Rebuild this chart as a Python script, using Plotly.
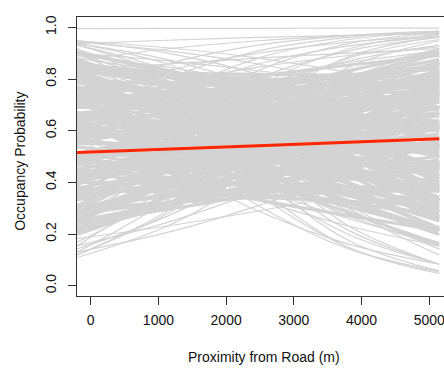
import plotly.graph_objects as go

# x positions (m) at which each posterior curve is read
x_points = [-203, 2472, 5148]                    # core curves: left edge, middle, right end
x_points_fine = [-203, 1134, 2472, 3810, 5148]   # fringe curves: five readings each

# Posterior-sample occupancy curves, dense core (prob at left, middle, right)
core_left = [.475,.299,.378,.240,.438,.279,.366,.500,.310,.450,.250,.401,.354,.622,.214,.512,.299,.721,.214,.574,
             .354,.488,.279,.634,.198,.426,.711,.731,.366,.537,.223,.634,.289,.475,.711,.332,.611,.206,.512,.438,
             .711,.289,.599,.378,.794,.279,.657,.438,.562,.354,.711,.250,.500,.769,.794,.438,.611,.279,.701,.354,
             .550,.769,.401,.668,.259,.587,.512,.760,.343,.668,.450,.832,.332,.711,.512,.634,.413,.760,.299,.574,
             .818,.832,.500,.668,.343,.760,.413,.611,.810,.475,.731,.310,.646,.574,.810,.413,.721,.512,.870,.401,
             .769,.574,.701,.488,.810,.366,.646,.858,.870,.574,.741,.413,.810,.488,.690,.858,.550,.786,.389,.721,
             .657,.858,.500,.786,.611,.905,.488,.832,.668,.769,.587,.864,.463,.731,.900,.852,.721,.794,.657,.832,
             .701,.786,.858,.741,.839,.690,.825]
core_mid = [.332,.343,.343,.354,.354,.366,.366,.378,.378,.389,.389,.389,.401,.401,.401,.413,.413,.413,.426,.426,
            .426,.438,.438,.438,.450,.450,.450,.450,.463,.463,.463,.463,.475,.475,.475,.475,.488,.488,.488,.488,
            .500,.500,.500,.500,.512,.512,.512,.512,.512,.525,.525,.525,.525,.525,.537,.537,.537,.537,.537,.550,
            .550,.550,.550,.550,.562,.562,.562,.562,.562,.574,.574,.574,.574,.574,.587,.587,.587,.587,.587,.599,
            .599,.599,.599,.599,.611,.611,.611,.611,.611,.622,.622,.622,.622,.622,.634,.634,.634,.634,.646,.646,
            .646,.646,.657,.657,.657,.657,.668,.668,.668,.668,.679,.679,.679,.679,.690,.690,.690,.690,.701,.701,
            .701,.711,.711,.711,.721,.721,.721,.731,.731,.731,.741,.741,.741,.750,.750,.760,.760,.769,.769,.777,
            .777,.786,.786,.794,.802,.810,.818]
core_right = [.214,.389,.310,.488,.279,.463,.366,.269,.450,.332,.550,.378,.450,.214,.622,.321,.537,.161,.668,.289,
              .500,.389,.611,.259,.731,.475,.214,.198,.562,.389,.721,.299,.668,.475,.250,.622,.366,.777,.463,.537,
              .289,.711,.401,.622,.223,.741,.366,.587,.463,.690,.332,.786,.550,.269,.259,.634,.463,.777,.366,.731,
              .550,.310,.690,.426,.825,.537,.611,.343,.760,.475,.690,.269,.786,.426,.657,.537,.741,.389,.825,.622,
              .332,.310,.690,.525,.825,.438,.777,.611,.366,.750,.500,.858,.599,.668,.413,.810,.537,.741,.332,.832,
              .500,.711,.611,.794,.463,.864,.690,.401,.378,.750,.611,.864,.512,.825,.690,.450,.802,.574,.896,.679,
              .741,.500,.858,.622,.810,.413,.875,.599,.786,.690,.852,.562,.905,.769,.500,.634,.794,.741,.852,.711,
              .839,.786,.690,.839,.760,.891,.810]

# Posterior-sample curves at the fringes of the band (prob at the five x_points_fine)
edge_p0 = [.948,.937,.937,.931,.931,.917,.900,.881,.943,.948,.900,.900,.881,.891,.891,.846,.832,.769,
           .731,.622,.500,.354,.231,.154,.130,.119,.870,.937,.731,.574,.401,.269,.119,.109,.154,.142,.168,.130,
           .646,.182,.995,.646,.750,.881,.818,.574,.846,.881,.909,.900,.450,.711,.269,.832,.622]
edge_p1 = [.900,.875,.858,.832,.810,.769,.721,.679,.909,.921,.832,.769,.711,.786,.846,.634,.646,.550,
           .858,.802,.731,.622,.500,.389,.332,.289,.917,.950,.832,.741,.622,.500,.279,.231,.245,.269,.354,.206,
           .463,.231,.996,.512,.599,.741,.668,.450,.721,.825,.818,.870,.622,.786,.463,.858,.721]
edge_p2 = [.818,.769,.711,.646,.574,.500,.426,.378,.858,.881,.731,.550,.450,.622,.786,.354,.401,.310,
           .931,.909,.881,.832,.769,.690,.622,.550,.948,.961,.900,.858,.802,.731,.525,.426,.366,.450,.599,.310,
           .289,.289,.996,.378,.426,.525,.475,.332,.550,.750,.668,.832,.769,.846,.668,.881,.802]
edge_p3 = [.690,.611,.500,.401,.299,.231,.175,.148,.786,.825,.599,.310,.214,.426,.711,.148,.198,.142,
           .968,.961,.953,.937,.917,.886,.846,.786,.968,.969,.943,.928,.909,.881,.760,.646,.506,.646,.802,.438,
           .161,.354,.997,.259,.269,.299,.289,.231,.366,.657,.475,.786,.870,.891,.825,.900,.864]
edge_p4 = [.525,.426,.289,.198,.119,.083,.057,.047,.690,.750,.450,.142,.083,.250,.622,.052,.083,.057,
           .985,.984,.982,.978,.973,.964,.948,.917,.980,.976,.968,.964,.961,.953,.900,.818,.646,.802,.917,.574,
           .083,.426,.997,.168,.154,.142,.154,.154,.214,.550,.289,.731,.931,.924,.917,.917,.909]

# Posterior mean occupancy curve
mean_prob = [0.515, 0.542, 0.569]

x_ticks = [0, 1000, 2000, 3000, 4000, 5000]
y_ticks = [0.0, 0.2, 0.4, 0.6, 0.8, 1.0]
y_tick_labels = ["0.0", "0.2", "0.4", "0.6", "0.8", "1.0"]


def stack(xpos, *series):
    xs, ys = [], []
    for vals in zip(*series):
        xs += list(xpos) + [None]
        ys += list(vals) + [None]
    return xs, ys


fig = go.Figure()
cx, cy = stack(x_points, core_left, core_mid, core_right)
fig.add_trace(go.Scatter(x=cx, y=cy, mode="lines", line=dict(color="#D3D3D3", width=3.2, shape="spline"),
                         hoverinfo="skip", showlegend=False))
ex, ey = stack(x_points_fine, edge_p0, edge_p1, edge_p2, edge_p3, edge_p4)
fig.add_trace(go.Scatter(x=ex, y=ey, mode="lines", line=dict(color="#D3D3D3", width=1.2, shape="spline"),
                         hoverinfo="skip", showlegend=False))
fig.add_trace(go.Scatter(x=x_points, y=mean_prob, mode="lines",
                         line=dict(color="rgb(255,38,0)", width=3, shape="spline"),
                         hoverinfo="skip", showlegend=False))

axis_font = dict(family="Liberation Sans, Arial, sans-serif", size=14, color="#111")
fig.update_layout(
    width=444, height=371,
    margin=dict(l=77, r=0, t=17, b=75, autoexpand=False),
    paper_bgcolor="white", plot_bgcolor="white",
    font=axis_font,
    xaxis=dict(range=[-203, 5218], tickvals=x_ticks, ticks="outside", ticklen=8, tickcolor="#333",
               showline=True, linecolor="#333", linewidth=1, mirror=True, showgrid=False, zeroline=False,
               tickfont=axis_font, automargin=False, ticklabeloverflow="allow", ticklabelstandoff=3),
    yaxis=dict(range=[-0.04, 1.04], tickvals=y_ticks, ticktext=y_tick_labels, tickangle=-90,
               ticks="outside", ticklen=8, tickcolor="#333", showline=True, linecolor="#333", linewidth=1,
               showgrid=False, zeroline=False, tickfont=axis_font, ticklabelstandoff=6, automargin=False,
               ticklabeloverflow="allow"),
    annotations=[
        dict(text="Proximity from Road (m)", xref="x", yref="paper", x=2560, y=-0.218,
             xanchor="center", yanchor="middle", showarrow=False, font=axis_font),
        dict(text="Occupancy Probability", xref="paper", yref="y", x=-0.155, y=0.48,
             xanchor="center", yanchor="middle", textangle=-90, showarrow=False, font=axis_font),
    ],
)

fig.write_html("out.html", config={"displayModeBar": False},
               post_script="document.body.style.margin='0';document.body.style.overflow='hidden';")
